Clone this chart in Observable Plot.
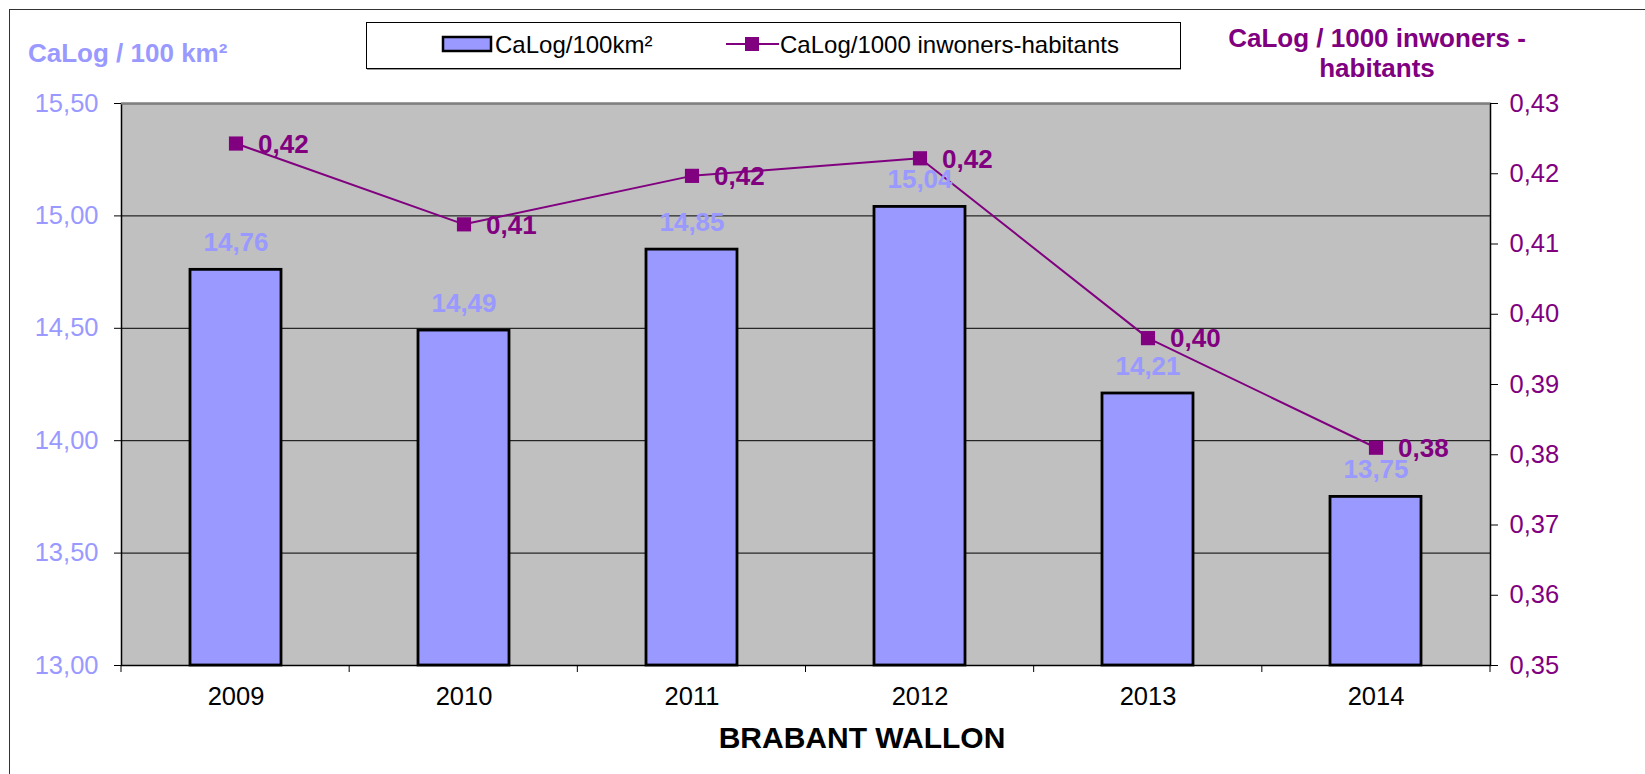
<!DOCTYPE html>
<html>
<head>
<meta charset="utf-8">
<script src="https://cdn.jsdelivr.net/npm/d3@7"></script>
<script src="https://cdn.jsdelivr.net/npm/@observablehq/plot@0.6"></script>
<style>
  html, body { margin: 0; padding: 0; background: #fff; overflow: hidden; }
  #chart svg { display: block; }
</style>
</head>
<body>
<div id="chart"></div>
<script>
// ---- data ----
const years = ["2009", "2010", "2011", "2012", "2013", "2014"];
const perArea = [14.76, 14.49, 14.85, 15.04, 14.21, 13.75];          // CaLog/100km²
const perPop = [0.4243, 0.4128, 0.4197, 0.4222, 0.3966, 0.3810];      // CaLog/1000 inwoners-habitants
const leftTicks = [13.0, 13.5, 14.0, 14.5, 15.0, 15.5];
const rightTicks = [0.35, 0.36, 0.37, 0.38, 0.39, 0.40, 0.41, 0.42, 0.43];
const seriesNames = ["CaLog/100km²", "CaLog/1000 inwoners-habitants"];
const leftTitle = "CaLog / 100 km²";
const rightTitle = ["CaLog / 1000 inwoners -", "habitants"];
const xTitle = "BRABANT WALLON";

// ---- helpers ----
const W = 1645, H = 774;
const M = {left: 121, right: 155, top: 103, bottom: 109};
const BLUE = "#9999FF", PURPLE = "#800080";
const FONT = "Arial, 'Liberation Sans', sans-serif";
const fmt = v => d3.format(".2f")(v).replace(".", ",");
const toLeft = d3.scaleLinear([0.35, 0.43], [13, 15.5]);

const barData = years.map((y, i) => ({year: y, v: perArea[i]}));
const lineData = years.map((y, i) => ({year: y, v: perPop[i]}));

// boundary ticks on the category axis
function categoryTicks(index, scales, values, dims) {
  const g = d3.create("svg:g");
  const x0 = dims.marginLeft, x1 = dims.width - dims.marginRight;
  const yb = dims.height - dims.marginBottom;
  const step = (x1 - x0) / years.length;
  for (let i = 0; i <= years.length; i++) {
    g.append("line")
      .attr("x1", x0 + i * step).attr("x2", x0 + i * step)
      .attr("y1", yb).attr("y2", yb + 7)
      .attr("stroke", "#000").attr("stroke-width", 1);
  }
  return g.node();
}

const chart = Plot.plot({
  width: W, height: H,
  marginLeft: M.left, marginRight: M.right, marginTop: M.top, marginBottom: M.bottom,
  style: {fontFamily: FONT, background: "transparent"},
  x: {type: "band", domain: years, paddingInner: 0.6, paddingOuter: 0.3, label: null},
  y: {domain: [13, 15.5], label: null},
  marks: [
    Plot.frame({fill: "#C0C0C0", stroke: null}),
    Plot.gridY(leftTicks.slice(1, -1), {stroke: "#000", strokeOpacity: 1, strokeWidth: 1}),
    Plot.barY(barData, {x: "year", y1: 13, y2: "v", fill: BLUE, stroke: "#000", strokeWidth: 2.8}),
    Plot.frame({stroke: "#000", strokeWidth: 1.5}),
    Plot.ruleY([15.5], {stroke: "#808080", strokeWidth: 2}),
    Plot.line(lineData, {x: "year", y: d => toLeft(d.v), stroke: PURPLE, strokeWidth: 2}),
    Plot.dot(lineData, {x: "year", y: d => toLeft(d.v), symbol: "square", r: 8, fill: PURPLE, stroke: null}),
    Plot.text(barData, {x: "year", y: "v", text: d => fmt(d.v), dy: -27, lineAnchor: "middle",
      fill: BLUE, fontWeight: "bold", fontSize: 26}),
    Plot.text(lineData, {x: "year", y: d => toLeft(d.v), text: d => fmt(d.v), dx: 22, dy: 1,
      textAnchor: "start", lineAnchor: "middle", fill: PURPLE, fontWeight: "bold", fontSize: 26}),
    Plot.axisY(leftTicks, {anchor: "left", tickSize: 7, tickPadding: 16, tickFormat: fmt,
      fontSize: 25.5, stroke: "#000", fill: BLUE, label: null}),
    Plot.axisY(rightTicks.map(v => toLeft(v)), {anchor: "right", tickSize: 7, tickPadding: 12,
      tickFormat: d => fmt(toLeft.invert(d)), fontSize: 25.5, stroke: "#000", fill: PURPLE, label: null}),
    Plot.axisX({tickSize: 0, tickPadding: 21, fontSize: 25.5, fill: "#000", label: null}),
    categoryTicks
  ]
});

document.getElementById("chart").appendChild(chart);

// ---- annotations: border, titles, legend ----
const svg = d3.select(chart);
svg.append("rect").attr("x", 9.5).attr("y", 9.5).attr("width", 1700).attr("height", 800)
  .attr("fill", "none").attr("stroke", "#333").attr("stroke-width", 1);

svg.append("text").attr("x", 28).attr("y", 62).attr("text-anchor", "start").text(leftTitle)
  .attr("font-family", FONT).attr("font-weight", "bold").attr("font-size", 26).attr("fill", BLUE);

const rt = svg.append("text").attr("text-anchor", "middle")
  .attr("font-family", FONT).attr("font-weight", "bold").attr("font-size", 26).attr("fill", PURPLE);
rightTitle.forEach((t, i) => rt.append("tspan").attr("x", 1377).attr("y", 47 + i * 30).text(t));

svg.append("text").attr("x", 862).attr("y", 748).attr("text-anchor", "middle").text(xTitle)
  .attr("font-family", FONT).attr("font-weight", "bold").attr("font-size", 30).attr("fill", "#000");

// legend
const lg = svg.append("g").attr("text-anchor", "start");
lg.append("rect").attr("x", 366.5).attr("y", 22.5).attr("width", 814).attr("height", 46)
  .attr("fill", "#fff").attr("stroke", "#000").attr("stroke-width", 1);
lg.append("line").attr("x1", 367).attr("x2", 1181).attr("y1", 69.5).attr("y2", 69.5)
  .attr("stroke", "#999").attr("stroke-width", 1);
lg.append("rect").attr("x", 443).attr("y", 37).attr("width", 48).attr("height", 14)
  .attr("fill", BLUE).attr("stroke", "#000").attr("stroke-width", 2.5);
lg.append("text").attr("x", 495).attr("y", 53).attr("text-anchor", "start").text(seriesNames[0])
  .attr("font-family", FONT).attr("font-size", 24).attr("fill", "#000");
lg.append("line").attr("x1", 726).attr("x2", 779).attr("y1", 44).attr("y2", 44)
  .attr("stroke", PURPLE).attr("stroke-width", 2);
lg.append("rect").attr("x", 745).attr("y", 37).attr("width", 14).attr("height", 14).attr("fill", PURPLE);
lg.append("text").attr("x", 780).attr("y", 53).attr("text-anchor", "start").text(seriesNames[1])
  .attr("font-family", FONT).attr("font-size", 24).attr("fill", "#000");
</script>
</body>
</html>
